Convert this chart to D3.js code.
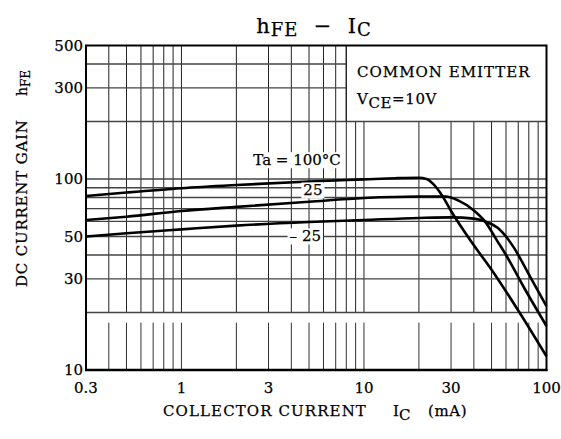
<!DOCTYPE html>
<html><head><meta charset="utf-8">
<script src="https://cdn.jsdelivr.net/npm/d3@7"></script>
<style>body{margin:0;background:#fff}svg{display:block}
text{font-family:"DejaVu Serif",serif;fill:#000;white-space:pre;stroke:#000;stroke-width:0.25}</style>
</head><body>
<svg id="c" width="561" height="439"></svg>
<script>
// ---- data ----
const xTickValues = [0.3, 1, 3, 10, 30, 100];
const yTickValues = [10, 30, 50, 100, 300, 500];
const xGridValues = [0.4,0.5,0.6,0.7,0.8,0.9,1,2,3,4,5,6,7,8,9,10,20,30,40,50,60,70,80,90];
const yGridValues = [20,30,40,50,60,70,80,90,100,200,300,400];

const ic100   = [0.3, 0.5, 1, 2, 5, 10, 15, 20, 22, 24, 27, 30, 40, 50, 70, 100];
const hfe100  = [81.5, 85, 89.5, 93, 97, 99.5, 101, 101.5, 100, 94, 81, 68, 45, 33.5, 20.5, 11.8];
const ic25    = [0.3, 0.5, 1, 2, 5, 10, 20, 28, 33, 40, 46, 54, 60, 75, 100];
const hfe25   = [61, 63.5, 68, 71.5, 76, 79.5, 81, 81, 77, 68.5, 60, 47, 40, 27.2, 17];
const icM25   = [0.3, 0.5, 1, 2, 5, 10, 20, 30, 40, 46, 54, 60, 66, 81, 100];
const hfeM25  = [50, 52, 54.5, 57, 59.5, 61, 62.5, 63, 62, 60, 55.5, 50, 44, 31, 21.6];

const seriesNames = ["Ta = 100°C", "25", "– 25"];
// ---- chart ----
const svg = d3.select("#c");
const x = d3.scaleLog().domain([0.3, 100]).range([86, 546.5]);
const y = d3.scaleLog().domain([10, 500]).range([370, 45.5]);

const boxI = 8, boxH = 200, gapLow = 17.7, gapHigh = 20;
const g = svg.append("g");

// vertical grid
xGridValues.forEach(v => {
  const top = v > boxI ? y(boxH) : y(500);
  g.append("line").attr("x1", x(v)).attr("x2", x(v)).attr("y1", top).attr("y2", y(gapHigh))
    .attr("stroke", "#222").attr("stroke-width", 1);
  g.append("line").attr("x1", x(v)).attr("x2", x(v)).attr("y1", y(gapLow)).attr("y2", y(10))
    .attr("stroke", "#333").attr("stroke-width", 1);
});
// horizontal grid
yGridValues.forEach(v => {
  const right = v > boxH ? x(boxI) : x(100);
  g.append("line").attr("x1", x(0.3)).attr("x2", right).attr("y1", y(v)).attr("y2", y(v))
    .attr("stroke", "#444").attr("stroke-width", 1.3);
});
// legend box left edge
g.append("line").attr("x1", x(boxI)).attr("x2", x(boxI)).attr("y1", y(500)).attr("y2", y(boxH))
  .attr("stroke", "#222").attr("stroke-width", 1.2);

// frame
svg.append("rect").attr("x", x(0.3)).attr("y", y(500)).attr("width", x(100) - x(0.3)).attr("height", y(10) - y(500))
  .attr("fill", "none").attr("stroke", "#000").attr("stroke-width", 2);
svg.append("line").attr("x1", x(0.3)-1).attr("x2", x(100)+1).attr("y1", y(10)).attr("y2", y(10))
  .attr("stroke", "#000").attr("stroke-width", 2.6);

// curves
const line = d3.line().x(d => x(d[0])).y(d => y(d[1])).curve(d3.curveMonotoneX);
[[ic100, hfe100], [ic25, hfe25], [icM25, hfeM25]].forEach(([a, b]) => {
  svg.append("path").datum(a.map((v, i) => [v, b[i]])).attr("d", line)
    .attr("fill", "none").attr("stroke", "#000").attr("stroke-width", 2.6).attr("stroke-linejoin", "round");
});

// curve labels with white background
const labelPos = [[4.3, 126], [5.25, 87.5], [4.77, 50.3]];
seriesNames.forEach((t, i) => {
  const [li, lh] = labelPos[i];
  const tx = svg.append("text").attr("x", x(li)).attr("y", y(lh)).attr("dy", "0.36em")
    .attr("text-anchor", "middle").attr("font-size", 15).text(t);
  const bb = tx.node().getBBox();
  svg.insert("rect", function(){ return tx.node(); })
    .attr("x", bb.x - 2).attr("y", bb.y + 1).attr("width", bb.width + 4).attr("height", bb.height - 2).attr("fill", "#fff");
});

// y tick labels
yTickValues.forEach(v => {
  svg.append("text").attr("x", 83).attr("y", y(v)).attr("dy", "0.36em").attr("text-anchor", "end")
    .attr("font-size", 15).text(v);
});
// x tick labels
xTickValues.forEach(v => {
  svg.append("text").attr("x", x(v)).attr("y", 393).attr("text-anchor", "middle")
    .attr("font-size", 15).text(v);
});

// title
const title = svg.append("text").attr("x", 314).attr("y", 33).attr("text-anchor", "middle")
  .attr("font-size", 21).attr("letter-spacing", 1);
title.append("tspan").text("h");
title.append("tspan").attr("font-size", 18).attr("dy", 3).text("FE");
title.append("tspan").attr("dy", -3).text("  −  I");
title.append("tspan").attr("font-size", 18).attr("dy", 3).text("C");

// legend text
svg.append("text").attr("x", 357).attr("y", 77).attr("font-size", 15).attr("letter-spacing", 1).text("COMMON EMITTER");
const vce = svg.append("text").attr("x", 357).attr("y", 104).attr("font-size", 15).attr("letter-spacing", 0.6);
vce.append("tspan").text("V");
vce.append("tspan").attr("dy", 4).text("CE");
vce.append("tspan").attr("dy", -4).text("=10V");

// x axis label
svg.append("text").attr("x", 163).attr("y", 416).attr("font-size", 15).attr("letter-spacing", 1.1).text("COLLECTOR CURRENT");
const xl = svg.append("text").attr("x", 393).attr("y", 416).attr("font-size", 15);
xl.append("tspan").text("I");
xl.append("tspan").attr("dy", 4).text("C");
svg.append("text").attr("x", 428).attr("y", 416).attr("font-size", 15).attr("letter-spacing", 0.6).text("(mA)");

// y axis label
svg.append("text").attr("transform", "translate(27,287) rotate(-90)").attr("font-size", 15).attr("letter-spacing", 0.8)
  .text("DC CURRENT GAIN");
const yl = svg.append("text").attr("transform", "translate(27,96) rotate(-90)").attr("font-size", 14);
yl.append("tspan").text("h");
yl.append("tspan").attr("font-size", 12).attr("dy", 3).text("FE");
</script>
</body></html>
